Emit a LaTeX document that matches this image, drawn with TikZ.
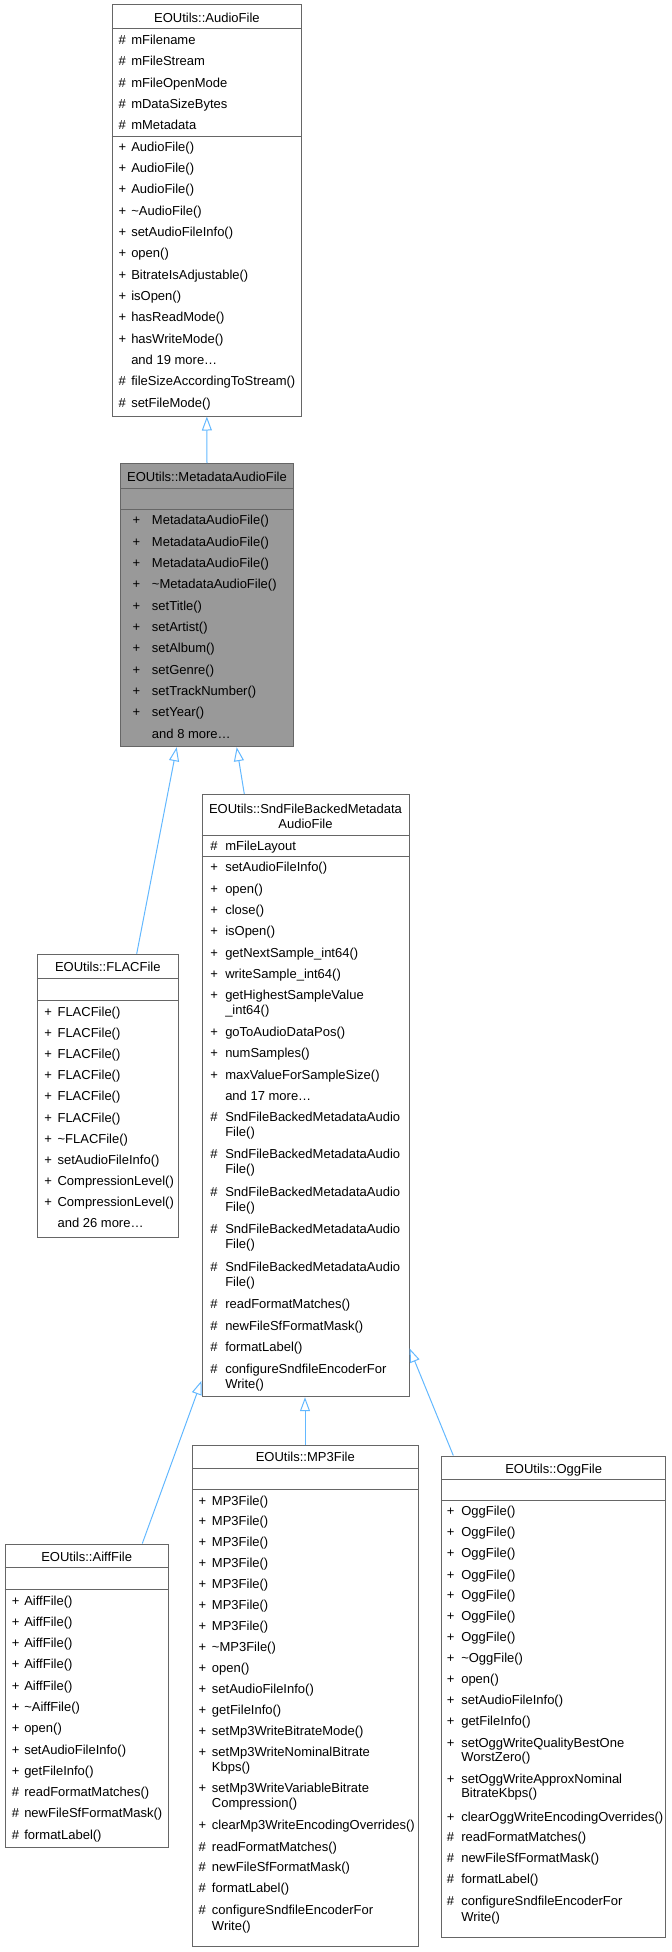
\documentclass[tikz,border=0pt]{standalone}
\usepackage{fontspec}
\setmainfont{Liberation Sans}
\usepackage{tikz}
\usetikzlibrary{arrows.meta,fit}
\definecolor{edgeBlue}{HTML}{63B8FF}
\definecolor{borderGray}{HTML}{666666}
\definecolor{fillGray}{HTML}{999999}
\newcommand{\andMore}[1]{and #1 more\ldots}

\begin{document}
\begin{tikzpicture}
[x=0.75pt,y=-0.75pt,
    classDecorate/.style={draw=borderGray,line width=0.75pt,fill=white,inner sep=0pt},%
    classFilledDecorate/.style={classDecorate,fill=fillGray},%
    sepDecorate/.style={draw=borderGray,line width=0.75pt},%
    textDecorate/.style={font=\fontsize{9.75}{11}\selectfont,inner sep=0pt,text height=7pt,text depth=0pt},%
    memberDecorate/.style={textDecorate,anchor=west},%
    lineDecorate/.style={edgeBlue,line width=0.75pt,-{Triangle[length=10.5pt,width=7.5pt,fill=white]}}]
    \useasboundingbox (0,0) rectangle (671,1952);
    %% class boxes
    \node (audio) [classDecorate,fit={(112,5) (301.7,416)}] {};
    \node (meta) [classFilledDecorate,fit={(120.7,463.7) (293.3,746.7)}] {};
    \node (snd) [classDecorate,fit={(202,794.5) (409,1396.7)}] {};
    \node (flac) [classDecorate,fit={(37.3,954.3) (178.3,1237.3)}] {};
    \node (aiff) [classDecorate,fit={(5,1544) (168.3,1847.7)}] {};
    \node (mp3) [classDecorate,fit={(192.3,1445) (418.3,1946.7)}] {};
    \node (ogg) [classDecorate,fit={(441.7,1456) (665.7,1937.3)}] {};
    %% separators
    \foreach \cls/\y in {audio/29, audio/136, meta/488.3, meta/509.3, snd/835, snd/856, flac/978.3, flac/1000, aiff/1567.7, aiff/1589.3, mp3/1468.3, mp3/1489.3, ogg/1479.3, ogg/1500}
    {
        \draw[sepDecorate] (\cls.west |- 0,\y) -- (\cls.east |- 0,\y);
    }
    %% titles
    \node (audioTitle) at (206.9,17.5) [textDecorate] {EOUtils::AudioFile};
    \node (metaTitle) at (207,476.5) [textDecorate] {EOUtils::MetadataAudioFile};
    \node (sndTitleA) at (305.5,809.3) [textDecorate] {EOUtils::SndFileBackedMetadata};
    \node (sndTitleB) at (305.5,824.3) [textDecorate] {AudioFile};
    \node (flacTitle) at (107.8,967.3) [textDecorate] {EOUtils::FLACFile};
    \node (aiffTitle) at (86.7,1556.7) [textDecorate] {EOUtils::AiffFile};
    \node (mp3Title) at (305.3,1457.3) [textDecorate] {EOUtils::MP3File};
    \node (oggTitle) at (553.7,1468.5) [textDecorate] {EOUtils::OggFile};
    %% members of AudioFile
    \foreach \y/\m/\t [count=\i] in {40/\#/mFilename, 61.3/\#/mFileStream, 82.7/\#/mFileOpenMode, 104/\#/mDataSizeBytes, 125.3/\#/mMetadata, 146.7/+/AudioFile(), 168/+/AudioFile(), 189.3/+/AudioFile(), 210.7/+/\textasciitilde AudioFile(), 232/+/setAudioFileInfo(), 253.3/+/open(), 274.7/+/BitrateIsAdjustable(), 296/+/isOpen(), 317.3/+/hasReadMode(), 338.7/+/hasWriteMode(), 360/{}/\andMore{19}, 381.3/\#/fileSizeAccordingToStream(), 402.7/\#/setFileMode()}
    {
        \node (audioM\i) at (118.3,\y) [memberDecorate] {\m};
        \node (audioT\i) at (131,\y) [memberDecorate] {\t};
    }
    %% members of MetadataAudioFile
    \foreach \y/\m/\t [count=\i] in {520/+/MetadataAudioFile(), 541.5/+/MetadataAudioFile(), 562.8/+/MetadataAudioFile(), 584.1/+/\textasciitilde MetadataAudioFile(), 605.4/+/setTitle(), 626.8/+/setArtist(), 648.2/+/setAlbum(), 669.5/+/setGenre(), 690.8/+/setTrackNumber(), 712.2/+/setYear(), 733.5/{}/\andMore{8}}
    {
        \node (metaM\i) at (132.3,\y) [memberDecorate] {\m};
        \node (metaT\i) at (151.7,\y) [memberDecorate] {\t};
    }
    %% members of SndFileBackedMetadataAudioFile
    \foreach \y/\m/\t [count=\i] in {845.7/\#/mFileLayout, 867.3/+/setAudioFileInfo(), 888.7/+/open(), 910/+/close(), 931.3/+/isOpen(), 952.7/+/getNextSample\_int64(), 974/+/writeSample\_int64(), 995.3/+/getHighestSampleValue, 1010.3/{}/\_int64(), 1032/+/goToAudioDataPos(), 1053.3/+/numSamples(), 1074.7/+/maxValueForSampleSize(), 1096/{}/\andMore{17}, 1117.3/\#/SndFileBackedMetadataAudio, 1132.3/{}/File(), 1154.3/\#/SndFileBackedMetadataAudio, 1169.3/{}/File(), 1191.7/\#/SndFileBackedMetadataAudio, 1206.7/{}/File(), 1229.3/\#/SndFileBackedMetadataAudio, 1244.3/{}/File(), 1266.7/\#/SndFileBackedMetadataAudio, 1282/{}/File(), 1304.3/\#/readFormatMatches(), 1326/\#/newFileSfFormatMask(), 1347.3/\#/formatLabel(), 1369/\#/configureSndfileEncoderFor, 1384.3/{}/Write()}
    {
        \node (sndM\i) at (210,\y) [memberDecorate] {\m};
        \node (sndT\i) at (225,\y) [memberDecorate] {\t};
    }
    %% members of FLACFile
    \foreach \y/\m/\t [count=\i] in {1011.7/+/FLACFile(), 1032.7/+/FLACFile(), 1054.3/+/FLACFile(), 1075/+/FLACFile(), 1096/+/FLACFile(), 1117.7/+/FLACFile(), 1139/+/\textasciitilde FLACFile(), 1160/+/setAudioFileInfo(), 1181/+/CompressionLevel(), 1202.3/+/CompressionLevel(), 1223.3/{}/\andMore{26}}
    {
        \node (flacM\i) at (44,\y) [memberDecorate] {\m};
        \node (flacT\i) at (57.3,\y) [memberDecorate] {\t};
    }
    %% members of AiffFile
    \foreach \y/\m/\t [count=\i] in {1601/+/AiffFile(), 1621.7/+/AiffFile(), 1642.7/+/AiffFile(), 1664.3/+/AiffFile(), 1685.7/+/AiffFile(), 1706.7/+/\textasciitilde AiffFile(), 1728.3/+/open(), 1750/+/setAudioFileInfo(), 1771/+/getFileInfo(), 1792.3/\#/readFormatMatches(), 1813.3/\#/newFileSfFormatMask(), 1835/\#/formatLabel()}
    {
        \node (aiffM\i) at (11.7,\y) [memberDecorate] {\m};
        \node (aiffT\i) at (24,\y) [memberDecorate] {\t};
    }
    %% members of MP3File
    \foreach \y/\m/\t [count=\i] in {1500.7/+/MP3File(), 1521/+/MP3File(), 1542.3/+/MP3File(), 1563.3/+/MP3File(), 1584/+/MP3File(), 1605/+/MP3File(), 1625.7/+/MP3File(), 1647.3/+/\textasciitilde MP3File(), 1668.3/+/open(), 1689/+/setAudioFileInfo(), 1710/+/getFileInfo(), 1731/+/setMp3WriteBitrateMode(), 1751.7/+/setMp3WriteNominalBitrate, 1766.7/{}/Kbps(), 1788.3/+/setMp3WriteVariableBitrate, 1803.3/{}/Compression(), 1825/+/clearMp3WriteEncodingOverrides(), 1846.7/\#/readFormatMatches(), 1867.3/\#/newFileSfFormatMask(), 1888.3/\#/formatLabel(), 1910/\#/configureSndfileEncoderFor, 1926/{}/Write()}
    {
        \node (mp3M\i) at (198.3,\y) [memberDecorate] {\m};
        \node (mp3T\i) at (211.7,\y) [memberDecorate] {\t};
    }
    %% members of OggFile
    \foreach \y/\m/\t [count=\i] in {1511.2/+/OggFile(), 1532.2/+/OggFile(), 1553.2/+/OggFile(), 1574.4/+/OggFile(), 1594.8/+/OggFile(), 1616/+/OggFile(), 1637/+/OggFile(), 1657.6/+/\textasciitilde OggFile(), 1679/+/open(), 1700/+/setAudioFileInfo(), 1721/+/getFileInfo(), 1742.7/+/setOggWriteQualityBestOne, 1757.3/{}/WorstZero(), 1779.3/+/setOggWriteApproxNominal, 1793.3/{}/BitrateKbps(), 1816.7/+/clearOggWriteEncodingOverrides(), 1837.3/\#/readFormatMatches(), 1858.3/\#/newFileSfFormatMask(), 1879.3/\#/formatLabel(), 1900.7/\#/configureSndfileEncoderFor, 1916.7/{}/Write()}
    {
        \node (oggM\i) at (446.7,\y) [memberDecorate] {\m};
        \node (oggT\i) at (461,\y) [memberDecorate] {\t};
    }
    %% inheritance edges
    \draw[lineDecorate] (meta.north) -- (audio.south);
    \draw[lineDecorate] (flac.north -| 136.7,0) -- (meta.south -| 176.7,0);
    \draw[lineDecorate] (snd.north -| 244.3,0) -- (meta.south -| 236.7,0);
    \draw[lineDecorate] (aiff.north -| 142.3,0) -- (snd.west |- 0,1380.7);
    \draw[lineDecorate] (mp3.north -| 305,0) -- (snd.south -| 305,0);
    \draw[lineDecorate] (ogg.north -| 453.3,0) -- (snd.east |- 0,1348.3);
\end{tikzpicture}
\end{document}
